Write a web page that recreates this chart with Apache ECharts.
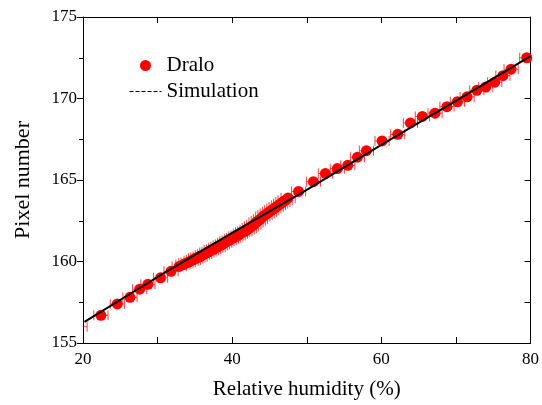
<!DOCTYPE html>
<html>
<head>
<meta charset="utf-8">
<script src="https://cdn.jsdelivr.net/npm/echarts@6/dist/echarts.min.js"></script>
<style>
  html, body { margin: 0; padding: 0; background: #fff; }
  #chart { width: 542px; height: 405px; }
</style>
</head>
<body>
<div id="chart"></div>
<script>
  // measured points (relative humidity %, pixel number)
  var humidity = [19.6, 22.4, 24.6, 26.3, 27.6, 28.7, 30.4, 31.8, 32.9,
    33.4, 33.8, 34.1, 34.5, 34.8, 35.1, 35.4, 35.7, 36.0, 36.3, 36.6, 36.9,
    37.2, 37.5, 37.8, 38.1, 38.4, 38.7, 39.0, 39.3, 39.6, 39.9, 40.2, 40.5,
    40.8, 41.1, 41.4, 41.7, 42.0, 42.3, 42.6, 42.9, 43.2, 43.5, 43.8, 44.1,
    44.4, 44.7, 45.0, 45.3, 45.6, 45.9, 46.2, 46.5, 46.8, 47.1, 47.5,
    48.9, 50.9, 52.5, 54.1, 55.5, 56.8, 58.0, 60.1, 62.2, 63.9, 65.5, 67.2,
    68.8, 70.2, 71.5, 72.8, 74.0, 75.2, 76.3, 77.4, 79.5];
  var pixel = [156.0, 156.7, 157.4, 157.8, 158.3, 158.6, 159.0, 159.4, 159.7,
    159.8, 159.9, 159.95, 160.05, 160.1, 160.2, 160.25, 160.3, 160.4, 160.45, 160.55, 160.6,
    160.7, 160.75, 160.85, 160.9, 161.0, 161.05, 161.15, 161.25, 161.3, 161.4, 161.45, 161.55,
    161.6, 161.7, 161.8, 161.85, 161.95, 162.05, 162.15, 162.25, 162.4, 162.5, 162.6, 162.75,
    162.85, 162.95, 163.05, 163.15, 163.25, 163.35, 163.45, 163.55, 163.65, 163.75, 163.9,
    164.3, 164.9, 165.4, 165.7, 165.9, 166.4, 166.8, 167.4, 167.8, 168.5, 168.9, 169.1,
    169.5, 169.8, 170.1, 170.5, 170.7, 171.0, 171.4, 171.8, 172.5];
  var humidityErr = 0.95;

  // simulation curve
  var simHumidity = [20.2, 30, 40, 50, 60, 70, 80];
  var simPixel = [156.3, 159.05, 161.75, 164.4, 167.15, 169.85, 172.6];

  var xTicks = { min: 20, max: 80, interval: 20 };
  var yTicks = { min: 155, max: 175, interval: 5 };

  var font = 'Liberation Serif';

  var dotData = [];
  for (var i = 0; i < humidity.length; i++) {
    dotData.push([humidity[i], pixel[i], humidityErr]);
  }
  var simData = [];
  for (var j = 0; j < simHumidity.length; j++) {
    simData.push([simHumidity[j], simPixel[j]]);
  }

  function renderErrBar(params, api) {
    var x = api.value(0), y = api.value(1), e = api.value(2);
    var p1 = api.coord([x - e, y]);
    var p2 = api.coord([x + e, y]);
    var cap = 5;
    var st = { stroke: 'rgba(255,20,20,0.8)', lineWidth: 1 };
    var cs = params.coordSys;
    return {
      type: 'group',
      clipPath: { type: 'rect', shape: { x: cs.x, y: cs.y, width: cs.width, height: cs.height } },
      children: [
        { type: 'line', shape: { x1: p1[0], y1: p1[1], x2: p2[0], y2: p2[1] }, style: st },
        { type: 'line', shape: { x1: p1[0], y1: p1[1] - cap, x2: p1[0], y2: p1[1] + cap }, style: st },
        { type: 'line', shape: { x1: p2[0], y1: p2[1] - cap, x2: p2[0], y2: p2[1] + cap }, style: st }
      ]
    };
  }

  var axisLine = { lineStyle: { color: '#000', width: 1 } };

  var chart = echarts.init(document.getElementById('chart'), null, { renderer: 'canvas' });
  var option = {
    backgroundColor: '#fff',
    animation: false,
    grid: { left: 83, right: 9, top: 17, bottom: 61 },
    legend: {
      orient: 'vertical',
      left: 124,
      top: 50,
      itemGap: 5,
      itemWidth: 32,
      itemHeight: 11,
      textStyle: { fontFamily: font, fontSize: 21, color: '#000' },
      data: [
        { name: 'Dralo', icon: 'circle' },
        {
          name: 'Simulation',
          itemStyle: { color: 'rgba(0,0,0,0)', borderWidth: 0, opacity: 0 },
          lineStyle: { type: [4, 2], width: 1, color: '#000' }
        }
      ]
    },
    xAxis: [{
      type: 'value', position: 'bottom',
      min: xTicks.min, max: xTicks.max, interval: xTicks.interval,
      name: 'Relative humidity (%)', nameLocation: 'middle', nameGap: 36,
      nameTextStyle: { fontFamily: font, fontSize: 21, color: '#000' },
      axisLine: axisLine,
      axisTick: { inside: true, length: 6, lineStyle: { color: '#000' } },
      minorTick: { show: true, splitNumber: 2, length: 6, lineStyle: { color: '#000' } },
      axisLabel: { fontFamily: font, fontSize: 17, color: '#000', margin: 8 },
      splitLine: { show: false }
    }, {
      type: 'value', position: 'top',
      min: xTicks.min, max: xTicks.max, interval: xTicks.interval,
      axisLine: axisLine,
      axisTick: { inside: true, length: 6, lineStyle: { color: '#000' } },
      minorTick: { show: true, splitNumber: 2, length: 6, lineStyle: { color: '#000' } },
      axisLabel: { show: false },
      splitLine: { show: false }
    }],
    yAxis: [{
      type: 'value', position: 'left',
      min: yTicks.min, max: yTicks.max, interval: yTicks.interval,
      name: 'Pixel number', nameLocation: 'middle', nameGap: 49,
      nameTextStyle: { fontFamily: font, fontSize: 22, color: '#000' },
      axisLine: axisLine,
      axisTick: { inside: false, length: 6, lineStyle: { color: '#000' } },
      minorTick: { show: true, splitNumber: 2, length: 4, lineStyle: { color: '#000' } },
      axisLabel: { fontFamily: font, fontSize: 17, color: '#000', margin: 6 },
      splitLine: { show: false }
    }, {
      type: 'value', position: 'right',
      min: yTicks.min, max: yTicks.max, interval: yTicks.interval,
      axisLine: axisLine,
      axisTick: { inside: true, length: 6, lineStyle: { color: '#000' } },
      minorTick: { show: true, splitNumber: 2, length: 6, lineStyle: { color: '#000' } },
      axisLabel: { show: false },
      splitLine: { show: false }
    }],
    series: [{
      name: 'errbars',
      type: 'custom',
      renderItem: renderErrBar,
      data: dotData,
      z: 2,
      silent: true
    }, {
      name: 'Dralo',
      type: 'scatter',
      data: dotData,
      symbol: 'circle',
      symbolSize: 11,
      itemStyle: { color: '#ff0000', opacity: 1 },
      z: 3
    }, {
      name: 'Simulation',
      type: 'line',
      data: simData,
      showSymbol: false,
      symbol: 'none',
      lineStyle: { color: '#000', width: 2 },
      itemStyle: { color: '#000' },
      z: 4
    }]
  };
  chart.setOption(option);
</script>
</body>
</html>
